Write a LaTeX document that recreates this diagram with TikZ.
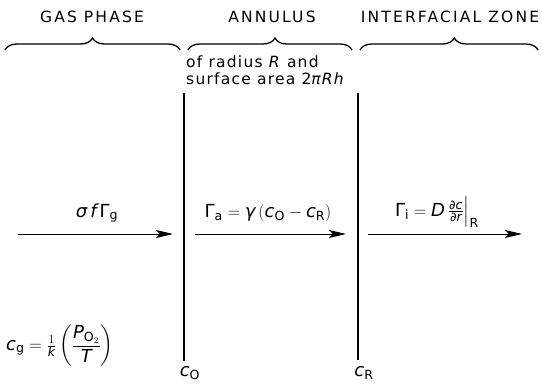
\documentclass[tikz,border=0pt]{standalone}
\usepackage{amsmath}
\usepackage{fontspec}
\setmainfont[LetterSpace=8]{DejaVu Sans}
\newfontfamily\headfont[LetterSpace=14]{DejaVu Sans}
\usetikzlibrary{arrows.meta,decorations.pathreplacing}
\tikzset{
  head/.style={font=\headfont\fontsize{15.5}{17}\selectfont, inner sep=0pt},
  body/.style={font=\fontsize{15.5}{17}\selectfont, inner sep=0pt},
  mathlbl/.style={font=\fontsize{18}{20}\selectfont, inner sep=0pt},
  bracestyle/.style={decorate, decoration={brace, amplitude=12pt, aspect=#1}, line width=1.3pt},
  wall/.style={line width=1.1pt},
  flux/.style={line width=1pt, -{Stealth[length=17pt,width=8pt,inset=4pt]}},
}
\newcommand\itx[1]{\text{\itshape #1}}
\begin{document}
\begin{tikzpicture}[x=1pt,y=-1pt]
\useasboundingbox (0,0) rectangle (542,384);
% headings
\node[head] (hgas) at (92,17) {GAS PHASE};
\node[head] (hann) at (272,17) {ANNULUS};
\node[head] (hint) at (450,17) {INTERFACIAL ZONE};
% braces
\coordinate (b1a) at (5,50);   \coordinate (b1b) at (180,50);
\coordinate (b2a) at (188,50); \coordinate (b2b) at (352,50);
\coordinate (b3a) at (360,50); \coordinate (b3b) at (538,50);
\draw[bracestyle=0.5] (b1a) -- (b1b);
\draw[bracestyle=0.53] (b2a) -- (b2b);
\draw[bracestyle=0.53] (b3a) -- (b3b);
% annulus description
\node[body, anchor=north west, align=left] (desc) at (186,56)
  {of radius \textit{R} and\\surface area 2\textit{πRh}};
% walls
\coordinate (w1t) at (184,93); \coordinate (w1b) at (184,361);
\coordinate (w2t) at (358,93); \coordinate (w2b) at (358,360);
\draw[wall] (w1t) -- (w1b);
\draw[wall] (w2t) -- (w2b);
\node[mathlbl, anchor=base] (cO) at (190,376) {$\itx{c}_{\text{O}}$};
\node[mathlbl, anchor=base] (cR) at (364,376) {$\itx{c}_{\text{R}}$};
% fluxes
\coordinate (f1a) at (18,234);  \coordinate (f1b) at (173,234);
\coordinate (f2a) at (195,234); \coordinate (f2b) at (346,234);
\coordinate (f3a) at (368,234); \coordinate (f3b) at (522,234);
\draw[flux] (f1a) -- (f1b);
\draw[flux] (f2a) -- (f2b);
\draw[flux] (f3a) -- (f3b);
\node[mathlbl] (l1) at (97,213) {$\itx{σ\,f}\,\text{Γ}_{\text{g}}$};
\node[mathlbl] (l2) at (268,213) {$\text{Γ}_{\text{a}} = \itx{γ}\,(\itx{c}_{\text{O}} - \itx{c}_{\text{R}})$};
\node[mathlbl] (l3) at (437,212) {$\text{Γ}_{\text{i}} = \itx{D}\,\frac{\text{∂}\itx{c}}{\text{∂}\itx{r}}\Big|_{\text{R}}$};
% gas concentration
\node[mathlbl, anchor=west] (cg) at (6,346)
  {$\itx{c}_{\text{g}} = \frac{1}{\itx{k}}\left(\dfrac{\itx{P}_{\text{O}_2}}{\itx{T}}\right)$};
\end{tikzpicture}
\end{document}
